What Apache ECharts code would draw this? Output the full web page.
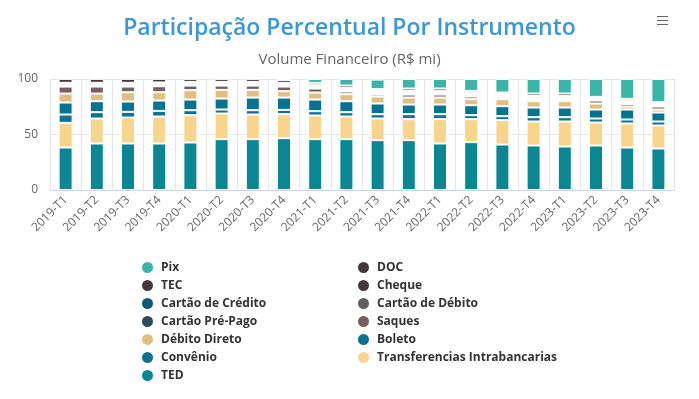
<!DOCTYPE html>
<html>
<head>
<meta charset="utf-8">
<script src="https://cdn.jsdelivr.net/npm/echarts@6/dist/echarts.min.js"></script>
<style>
html,body{margin:0;padding:0;background:#fff;}
#chart{width:699px;height:399px;}
</style>
</head>
<body>
<div id="chart"></div>
<script>
const categories = ['2019-T1','2019-T2','2019-T3','2019-T4','2020-T1','2020-T2','2020-T3','2020-T4','2021-T1','2021-T2','2021-T3','2021-T4','2022-T1','2022-T2','2022-T3','2022-T4','2023-T1','2023-T2','2023-T3','2023-T4'];
const yTicks = [0, 50, 100];

const ted      = [38.3,41.9,41.9,41.9,42.8,45.8,45.8,46.7,45.8,45.8,44.9,44.9,41.9,43.1,41.0,40.1,39.2,40.1,38.3,37.4];
const transf   = [22.2,22.5,23.4,24.3,24.6,23.1,22.2,21.6,21.3,20.4,19.5,18.9,21.9,20.7,21.9,21.6,22.5,20.7,21.6,20.7];
const convenio = [7.5,5.7,5.1,5.1,4.5,3.6,3.9,3.9,3.9,3.9,3.9,4.5,4.5,3.6,3.6,3.9,3.9,3.6,3.6,3.6];
const boleto   = [10.8,9.9,9.3,9.3,9.6,9.9,11.4,11.1,10.5,9.9,9.6,8.7,8.7,9.0,9.0,8.7,8.7,8.1,9.0,8.1];
const debitoDireto = [8.1,6.9,8.4,7.5,8.4,7.8,6.9,5.7,6.3,6.3,6.3,6.3,6.3,5.4,6.3,5.7,5.7,5.4,2.7,2.7];
const saques   = [6.3,6.3,5.1,5.4,4.2,3.9,3.9,4.2,3.6,2.4,1.8,2.7,2.7,2.4,1.5,1.5,1.5,2.7,2.4,2.7];
const prePago  = [0.1,0.1,0.1,0.1,0.1,0.1,0.1,0.1,0.1,0.1,0.1,0.1,0.1,0.1,0.1,0.1,0.1,0.1,0.1,0.1];
const cartaoDebito = [0.6,0.6,0.6,0.6,0.6,0.6,0.6,0.6,0.4,0.4,0.4,0.4,0.4,0.4,0.4,0.4,0.4,0.4,0.4,0.4];
const cartaoCredito = [1.0,1.0,1.0,1.0,1.0,1.0,1.0,1.1,1.1,1.2,1.3,1.4,1.4,1.4,1.4,1.5,1.5,1.2,1.0,1.2];
const cheque   = [1.5,1.5,1.5,1.5,1.4,1.4,1.4,1.4,1.2,1.2,1.2,1.2,1.0,1.0,1.0,1.0,0.9,0.9,0.9,0.9];
const tec      = [0.2,0.2,0.2,0.2,0.2,0.2,0.2,0.2,0.2,0.2,0.2,0.2,0.2,0.2,0.2,0.2,0.2,0.2,0.2,0.2];
const doc      = [3.5,3.5,3.5,3.2,2.7,2.7,2.7,2.6,2.1,2.3,1.7,2.1,2.3,2.0,1.4,2.2,2.3,0.5,1.9,1.1];
const pix      = [0,0,0,0,0,0,0,0.8,3.6,6.0,8.6,8.7,8.7,10.8,12.3,13.2,13.2,16.2,18.0,21.0];

// stacked bottom -> top
const seriesDefs = [
  ['TED', ted, '#0a8793'],
  ['Transferencias Intrabancarias', transf, '#f8d48c'],
  ['Convênio', convenio, '#0e7290'],
  ['Boleto', boleto, '#087291'],
  ['Débito Direto', debitoDireto, '#e0bf80'],
  ['Saques', saques, '#726062'],
  ['Cartão Pré-Pago', prePago, '#2f4a5a'],
  ['Cartão de Débito', cartaoDebito, '#606060'],
  ['Cartão de Crédito', cartaoCredito, '#075a74'],
  ['Cheque', cheque, '#45373b'],
  ['TEC', tec, '#45373b'],
  ['DOC', doc, '#45363b'],
  ['Pix', pix, '#3ab5a8']
];

const legendLeft = ['Pix','TEC','Cartão de Crédito','Cartão Pré-Pago','Débito Direto','Convênio','TED'];
const legendRight = ['DOC','Cheque','Cartão de Débito','Saques','Boleto','Transferencias Intrabancarias'];

const FONT = '"Open Sans", "Noto Sans", sans-serif';
const chart = echarts.init(document.getElementById('chart'), null, {renderer:'canvas'});

const legendCommon = {
  orient: 'vertical',
  icon: 'circle',
  itemWidth: 13,
  itemHeight: 13,
  itemGap: 3,
  textStyle: {color:'#333', fontSize: 12, fontWeight: 'bold', fontFamily: FONT, padding:[0,0,0,2]},
  padding: 0,
  selectedMode: true
};

chart.setOption({
  animation: false,
  textStyle: {fontFamily: FONT},
  title: [
    {text: 'Participação Percentual Por Instrumento', left: 'center', top: 12,
     textStyle: {color:'#3a98d8', fontSize: 23, fontWeight: 600, fontFamily: FONT}},
    {text: 'Volume Financeiro (R$ mi)', left: 'center', top: 47,
     textStyle: {color:'#666', fontSize: 15, fontWeight: 'normal', fontFamily: FONT}}
  ],
  graphic: [
    {type:'line', shape:{x1:657,y1:16.5,x2:668,y2:16.5}, style:{stroke:'#666', lineWidth:1}},
    {type:'line', shape:{x1:657,y1:20.5,x2:668,y2:20.5}, style:{stroke:'#666', lineWidth:1}},
    {type:'line', shape:{x1:657,y1:24.5,x2:668,y2:24.5}, style:{stroke:'#666', lineWidth:1}}
  ],
  legend: [
    Object.assign({}, legendCommon, {data: legendLeft, left: 140, top: 260}),
    Object.assign({}, legendCommon, {data: legendRight, left: 356, top: 260})
  ],
  grid: {left: 50, right: 25, top: 79, bottom: 209, containLabel: false},
  xAxis: {
    type: 'category',
    data: categories,
    boundaryGap: true,
    axisLine: {show: true, lineStyle: {color: '#ccd6eb'}},
    axisTick: {show: false},
    splitLine: {show: true, lineStyle: {color: '#e6e6e6'}},
    axisLabel: {rotate: 45, color: '#666', fontSize: 12, margin: 8, fontFamily: FONT, interval: 0}
  },
  yAxis: {
    type: 'value',
    min: yTicks[0],
    max: yTicks[yTicks.length - 1],
    interval: 50,
    axisLine: {show: false},
    axisTick: {show: false},
    splitLine: {lineStyle: {color: '#e6e6e6'}},
    axisLabel: {color: '#666', fontSize: 12, margin: 12, fontFamily: FONT}
  },
  series: seriesDefs.map(([name, data, color]) => ({
    name: name,
    type: 'bar',
    stack: 'total',
    data: data,
    barWidth: 14,
    itemStyle: {color: color, borderColor: '#fff', borderWidth: 1},
    emphasis: {disabled: true}
  }))
});
</script>
</body>
</html>
